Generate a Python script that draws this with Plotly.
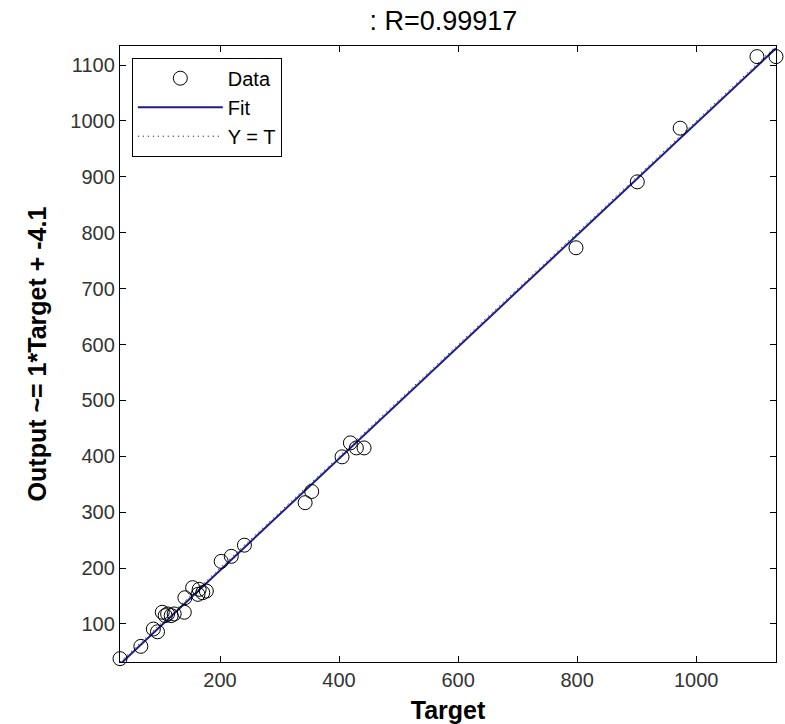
import plotly.graph_objects as go

# Data
targets = [32, 67, 88, 95, 103, 108, 112, 118, 123, 140, 141, 154, 163, 165, 171, 177,
           202, 219, 241, 343, 354, 405, 419, 429, 442, 798, 901, 973, 1102, 1134]
outputs = [38, 60, 91, 86, 121, 115, 118, 115, 118, 121, 147, 165, 153, 162, 156, 159,
           212, 221, 241, 317, 337, 399, 424, 415, 415, 773, 891, 987, 1115, 1115]
fit_slope = 1.0
fit_intercept = -4.1
r_value = 0.99917
x_ticks = [200, 400, 600, 800, 1000]
y_ticks = [100, 200, 300, 400, 500, 600, 700, 800, 900, 1000, 1100]

lo = min(min(targets), min(outputs))
hi = max(max(targets), max(outputs))

FONT = "Arial, Liberation Sans, Helvetica, sans-serif"

fig = go.Figure()
fig.add_trace(go.Scatter(
    x=[lo, hi], y=[lo, hi], mode="lines", name="Y = T", legendrank=3,
    line=dict(color="black", width=1, dash="1px,4px"),
))
fig.add_trace(go.Scatter(
    x=[lo, hi], y=[fit_slope * lo + fit_intercept, fit_slope * hi + fit_intercept],
    mode="lines", name="Fit", legendrank=2, line=dict(color="#1c1c8c", width=2),
))
fig.add_trace(go.Scatter(
    x=targets, y=outputs, mode="markers", name="Data", legendrank=1, cliponaxis=False,
    marker=dict(symbol="circle-open", size=14, color="black", line=dict(width=1, color="black")),
))

axis_common = dict(
    range=[lo, hi], showline=True, linecolor="black", linewidth=1.3, mirror="ticks",
    ticks="inside", ticklen=6, tickcolor="black", showgrid=False, zeroline=False,
    automargin=False,
    tickfont=dict(family=FONT, size=20, color="#333"),
)

fig.update_layout(
    width=785, height=724,
    margin=dict(l=120, r=9, t=46, b=62),
    paper_bgcolor="white", plot_bgcolor="white",
    title=dict(text=": R=%.5f" % r_value, x=0.493, xref="paper", xanchor="center",
               y=0.972, yref="container", yanchor="middle",
               font=dict(family=FONT, size=27, color="black")),
    xaxis=dict(axis_common, tickvals=x_ticks,
               title=dict(text="<b>Target</b>", standoff=12,
                          font=dict(family=FONT, size=25, color="black"))),
    yaxis=dict(axis_common, tickvals=y_ticks,
               title=dict(text="<b>Output ~= 1*Target + -4.1</b>", standoff=16,
                          font=dict(family=FONT, size=25, color="black"))),
    legend=dict(x=0.018, y=0.981, xanchor="left", yanchor="top",
                bordercolor="black", borderwidth=1, bgcolor="white",
                font=dict(family=FONT, size=20, color="black"),
                itemwidth=85, tracegroupgap=0),
    showlegend=True,
)

fig.write_html("out.html", config={"displayModeBar": False},
               post_script="document.body.style.margin='0';")
